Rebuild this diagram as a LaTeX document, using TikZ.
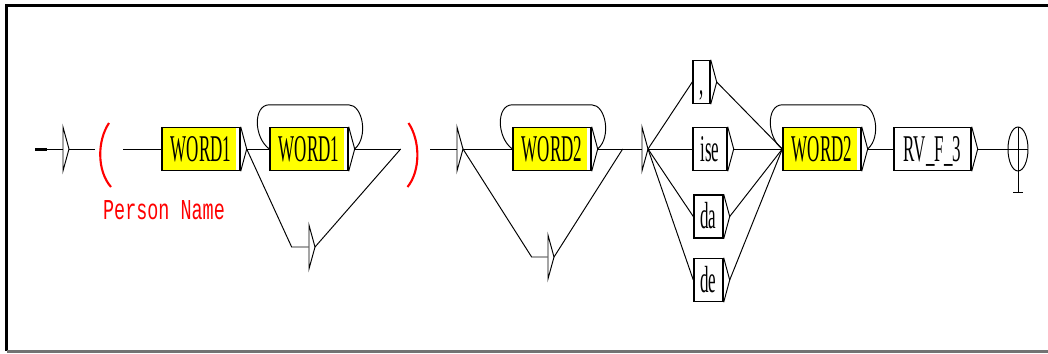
\documentclass[tikz,border=0pt]{standalone}
\usepackage{fontspec}
\usepackage{tikz}
\usetikzlibrary{calc,shapes.geometric}
\newfontfamily\grffont[FakeStretch=0.45]{Liberation Serif}
\newfontfamily\varfont[FakeStretch=0.64]{Liberation Mono}
\definecolor{grfYellow}{HTML}{FFFF00}
\definecolor{grfRed}{HTML}{FF0000}
\tikzset{
  grfbox/.style={draw,line width=.8pt,minimum height=.86cm,inner xsep=2pt,inner ysep=0pt,
    text height=14pt,text depth=0pt,font=\grffont\fontsize{21.5}{22}\selectfont},
  wordbox/.style={grfbox,fill=grfYellow,path picture={\fill[white]
    ($(path picture bounding box.north east)+(-4,0)$) rectangle (path picture bounding box.south east);}},
  epsnode/.style={minimum width=0pt,minimum height=.86cm,inner sep=0pt},
  link/.style={line width=.55pt},
  paren/.style={grfRed,line width=1.2pt}
}

\begin{document}
\begin{tikzpicture}[x=.02cm,y=-.02cm]
  \useasboundingbox (0,0) rectangle (1048,353);
  % frame
  \draw[line width=2.2pt] (1048,5.5) -- (6.5,5.5) -- (6.5,351);
  \draw[black!55,line width=1.2pt] (6.5,351.5) -- (1048,351.5);

  % states and boxes
  \coordinate (start) at (35,149);
  \node[epsnode] (init) at (63,149) {};
  \node[minimum width=.56cm,minimum height=1.28cm,inner sep=0pt] (vopen) at (109,149) {};
  \node[wordbox,minimum width=1.56cm] (w1a) at (201,149) {WORD1};
  \node[wordbox,minimum width=1.56cm] (w1b) at (309,149) {WORD1};
  \node[epsnode] (e1) at (309,247) {};
  \node[minimum width=.58cm,minimum height=1.28cm,inner sep=0pt] (vclose) at (415.5,149) {};
  \node[epsnode] (e2) at (457,149) {};
  \node[wordbox,minimum width=1.56cm] (w2a) at (552,149) {WORD2};
  \node[epsnode] (e4) at (548,257) {};
  \node[epsnode] (e3) at (642,149) {};
  \node[grfbox,minimum width=.34cm] (comma) at (701.5,82) {,};
  \node[grfbox,minimum width=.68cm] (ise) at (710,149) {ise};
  \node[grfbox,minimum width=.58cm] (da) at (708.5,216.5) {da};
  \node[grfbox,minimum width=.58cm] (de) at (708.5,280) {de};
  \node[wordbox,minimum width=1.56cm] (w2b) at (822,149) {WORD2};
  \node[grfbox,minimum width=1.54cm] (rv) at (932.5,149) {RV\_F\_3};
  \node[draw,ellipse,link,minimum width=.4cm,minimum height=.88cm,inner sep=0pt] (fin) at (1018,149) {};
  \node[font=\varfont\fontsize{16.4}{18}\selectfont,text=grfRed,anchor=base] (vname) at (164,219) {Person Name};

  % output arrows of the boxes
  \foreach \n in {w1a,w1b,w2a,comma,ise,da,de,w2b,rv}
    \draw[link] (\n.north east) -- ($(\n.east)+(6,0)$) coordinate (\n-o) -- (\n.south east);
  \foreach \n in {init,e1,e2,e3,e4}
    \draw[link] (\n.north) -- ($(\n.center)+(6,0)$) coordinate (\n-o) -- (\n.south) -- cycle;

  % variable brackets
  \draw[paren] ($(vopen.center)+(0,-26)$) .. controls ($(vopen.center)+(-12,-8)$)
    and ($(vopen.center)+(-12,22)$) .. ($(vopen.center)+(2,38)$);
  \draw[paren] ($(vclose.center)+(-7,-26)$) .. controls ($(vclose.center)+(5,-8)$)
    and ($(vclose.center)+(5,22)$) .. ($(vclose.center)+(-8,38)$);

  % transitions
  \draw[line width=1.7pt] (start) -- ++(12,0);
  \draw[link] (start) -- (init);
  \draw[link] (init-o) -- (vopen.west);
  \draw[link] (vopen.east) -- (w1a.west);
  \draw[link] (w1a-o) -- (w1b.west);
  \draw[link] (w1a-o) -- ($(e1.west)+(-17,0)$) -- (e1.west);
  \draw[link] (w1b-o) -- (vclose.west);
  \draw[link] (e1-o) -- (vclose.west);
  \draw[link] (vclose.east) -- (e2.west);
  \draw[link] (e2-o) -- (w2a.west);
  \draw[link] (e2-o) -- ($(e4.west)+(-16,0)$) -- (e4.west);
  \draw[link] (w2a-o) -- (e3.west);
  \draw[link] (e4-o) -- ($(e3.west)+(-19,0)$);
  \foreach \n in {comma,ise,da,de}{
    \draw[link] (e3-o) -- (\n.west);
    \draw[link] (\n-o) -- (w2b.west);
  }
  \draw[link] (w2b-o) -- (rv.west);
  \draw[link] (rv-o) -- (fin.west);

  % loops back onto the same box
  \foreach \n in {w1b,w2a,w2b}
    \draw[link] (\n-o) .. controls ($(\n-o)+(14,-12)$) and ($(\n.north east)+(14,-22)$)
      .. ($(\n.north east)+(0,-22)$) -- ($(\n.north west)+(0,-22)$)
      .. controls ($(\n.north west)+(-16,-22)$) and ($(\n.west)+(-16,-12)$) .. (\n.west);

  % final state
  \draw[link] (fin.west) -- (fin.east);
  \draw[link] (fin.north) -- (fin.south) -- ++(0,21) coordinate (finfoot);
  \draw[line width=1.1pt] ($(finfoot)+(-5,0)$) -- ($(finfoot)+(5,0)$);
\end{tikzpicture}
\end{document}
